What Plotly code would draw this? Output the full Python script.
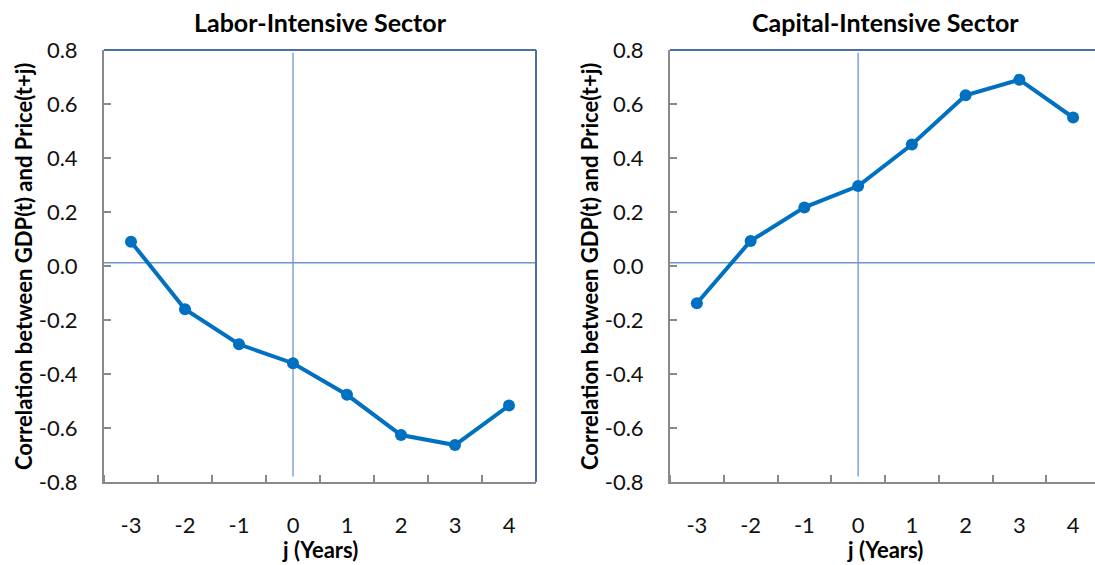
import plotly.graph_objects as go

# ---------------------------
# data
# ---------------------------
years = [-3, -2, -1, 0, 1, 2, 3, 4]
year_labels = ['-3', '-2', '-1', '0', '1', '2', '3', '4']
labor_corr = [0.09, -0.16, -0.29, -0.36, -0.477, -0.626, -0.663, -0.517]
capital_corr = [-0.138, 0.093, 0.217, 0.296, 0.45, 0.632, 0.69, 0.55]
y_ticks = [-0.8, -0.6, -0.4, -0.2, 0.0, 0.2, 0.4, 0.6, 0.8]
y_tick_labels = ['-0.8', '-0.6', '-0.4', '-0.2', '0.0', '0.2', '0.4', '0.6', '0.8']
panel_titles = ['Labor-Intensive Sector', 'Capital-Intensive Sector']
y_title = 'Correlation between GDP(t) and Price(t+j)'
x_title = 'j (Years)'

W, H = 1095, 565
FONT = 'Lato'
LINE_BLUE = '#0070C0'
AXIS_GREY = '#898989'
FRAME_BLUE = '#4A6FA5'
CROSS_BLUE = '#6F95CC'

# pixel frame of each plot area
left_px = [(104, 536), (670, 1095)]
top_px, bottom_px = 50, 482

fig = go.Figure()

for i, vals in enumerate([labor_corr, capital_corr]):
    n = '' if i == 0 else str(i + 1)
    x0, x1 = left_px[i]
    fig.add_trace(go.Scatter(
        x=years, y=vals, mode='lines+markers',
        line=dict(color=LINE_BLUE, width=4),
        marker=dict(size=12, color=LINE_BLUE),
        xaxis='x' + n, yaxis='y' + n, showlegend=False,
        hoverinfo='x+y'
    ))
    # right plot is cut by the picture edge, so trim its x range
    xr_end = 4.5 if i == 0 else 4.5 - (1100 - 1095) / 53.8
    fig.update_layout(**{
        'xaxis' + n: dict(
            domain=[x0 / W, x1 / W], anchor='y' + n, automargin=False,
            range=[-3.5, xr_end], tickvals=years, ticktext=year_labels,
            ticks='', showgrid=False, zeroline=False,
            showline=True, linecolor=AXIS_GREY, linewidth=2,
            ticklabelstandoff=23,
            minor=dict(tick0=-2.5, dtick=1, ticks='inside', ticklen=7,
                       tickcolor=AXIS_GREY, tickwidth=2, showgrid=False),
            tickfont=dict(family=FONT, size=22, color='#111'),
            fixedrange=True,
        ),
        'yaxis' + n: dict(
            domain=[1 - bottom_px / H, 1 - top_px / H], anchor='x' + n, automargin=False,
            range=[-0.8, 0.8], tickvals=y_ticks, ticktext=y_tick_labels,
            ticks='inside', ticklen=7, tickcolor=AXIS_GREY, tickwidth=2,
            showgrid=False, zeroline=False,
            showline=True, linecolor=AXIS_GREY, linewidth=2,
            ticklabelstandoff=20,
            tickfont=dict(family=FONT, size=22, color='#111'),
            fixedrange=True,
        ),
    })

    xd = ('x' + n) + ' domain'
    yd = ('y' + n) + ' domain'
    # top / right frame
    fig.add_shape(type='line', xref=xd, yref=yd, x0=0, x1=1, y0=1, y1=1,
                  line=dict(color=FRAME_BLUE, width=2))
    if i == 0:
        fig.add_shape(type='line', xref=xd, yref=yd, x0=1, x1=1, y0=0, y1=1,
                      line=dict(color=FRAME_BLUE, width=2))
    # cross lines through the origin
    fig.add_shape(type='line', xref=xd, yref='y' + n, x0=0, x1=1, y0=0.012, y1=0.012,
                  line=dict(color=CROSS_BLUE, width=1.3), layer='below')
    fig.add_shape(type='line', xref='x' + n, yref='y' + n, x0=0, x1=0, y0=-0.78, y1=0.79,
                  line=dict(color=CROSS_BLUE, width=1.3), layer='below')

    # panel title, axis titles
    cx = (x0 + (x1 if i == 0 else 1100)) / 2
    fig.add_annotation(text='<b>' + panel_titles[i] + '</b>', xref='paper', yref='paper',
                       x=cx / W, y=1 - 22 / H, showarrow=False,
                       xanchor='center', yanchor='middle',
                       font=dict(family=FONT, size=25, color='black'))
    fig.add_annotation(text='<b>' + x_title + '</b>', xref='paper', yref='paper',
                       x=cx / W, y=1 - 549 / H, showarrow=False,
                       xanchor='center', yanchor='middle',
                       font=dict(family=FONT, size=22, color='black'))
    fig.add_annotation(text='<b>' + y_title + '</b>', xref='paper', yref='paper',
                       x=(x0 - 81) / W, y=1 - 267 / H, showarrow=False, textangle=-90,
                       xanchor='center', yanchor='middle',
                       font=dict(family=FONT, size=22, color='black'))

fig.update_layout(
    width=W, height=H,
    margin=dict(l=0, r=0, t=0, b=0),
    paper_bgcolor='white', plot_bgcolor='white',
)

fig.write_html("out.html", config={'displayModeBar': False},
               post_script="document.body.style.margin='0px';")
